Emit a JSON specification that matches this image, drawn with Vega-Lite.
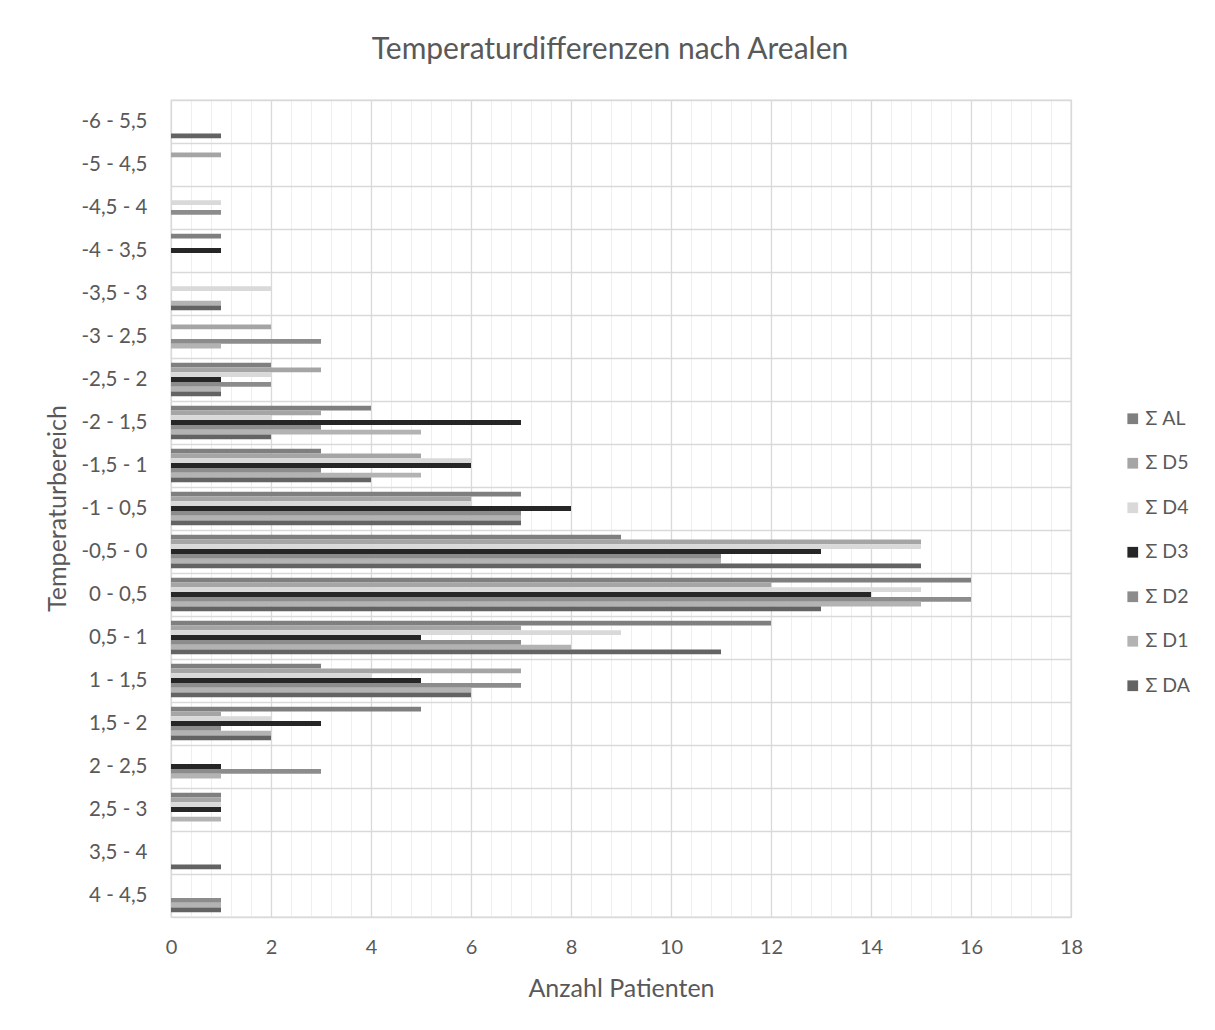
{
  "$schema": "https://vega.github.io/schema/vega-lite/v6.json",
  "width": 900,
  "height": 817,
  "autosize": {"type": "none"},
  "padding": {"left": 171, "top": 100, "right": 144, "bottom": 113},
  "background": "white",
  "title": {
    "text": "Temperaturdifferenzen nach Arealen",
    "font": "Lato",
    "fontSize": 30,
    "fontWeight": "normal",
    "color": "#595959",
    "anchor": "middle",
    "frame": "group",
    "dx": -11,
    "offset": 1,
    "baseline": "alphabetic"
  },
  "data": {
    "values": [
      {"t": "-6 - 5,5", "s": "Σ DA", "n": 1},
      {"t": "-5 - 4,5", "s": "Σ D5", "n": 1},
      {"t": "-4,5 - 4", "s": "Σ D4", "n": 1},
      {"t": "-4,5 - 4", "s": "Σ D2", "n": 1},
      {"t": "-4 - 3,5", "s": "Σ AL", "n": 1},
      {"t": "-4 - 3,5", "s": "Σ D3", "n": 1},
      {"t": "-3,5 - 3", "s": "Σ D4", "n": 2},
      {"t": "-3,5 - 3", "s": "Σ D1", "n": 1},
      {"t": "-3,5 - 3", "s": "Σ DA", "n": 1},
      {"t": "-3 - 2,5", "s": "Σ D5", "n": 2},
      {"t": "-3 - 2,5", "s": "Σ D2", "n": 3},
      {"t": "-3 - 2,5", "s": "Σ D1", "n": 1},
      {"t": "-2,5 - 2", "s": "Σ AL", "n": 2},
      {"t": "-2,5 - 2", "s": "Σ D5", "n": 3},
      {"t": "-2,5 - 2", "s": "Σ D4", "n": 2},
      {"t": "-2,5 - 2", "s": "Σ D3", "n": 1},
      {"t": "-2,5 - 2", "s": "Σ D2", "n": 2},
      {"t": "-2,5 - 2", "s": "Σ D1", "n": 1},
      {"t": "-2,5 - 2", "s": "Σ DA", "n": 1},
      {"t": "-2 - 1,5", "s": "Σ AL", "n": 4},
      {"t": "-2 - 1,5", "s": "Σ D5", "n": 3},
      {"t": "-2 - 1,5", "s": "Σ D4", "n": 2},
      {"t": "-2 - 1,5", "s": "Σ D3", "n": 7},
      {"t": "-2 - 1,5", "s": "Σ D2", "n": 3},
      {"t": "-2 - 1,5", "s": "Σ D1", "n": 5},
      {"t": "-2 - 1,5", "s": "Σ DA", "n": 2},
      {"t": "-1,5 - 1", "s": "Σ AL", "n": 3},
      {"t": "-1,5 - 1", "s": "Σ D5", "n": 5},
      {"t": "-1,5 - 1", "s": "Σ D4", "n": 6},
      {"t": "-1,5 - 1", "s": "Σ D3", "n": 6},
      {"t": "-1,5 - 1", "s": "Σ D2", "n": 3},
      {"t": "-1,5 - 1", "s": "Σ D1", "n": 5},
      {"t": "-1,5 - 1", "s": "Σ DA", "n": 4},
      {"t": "-1 - 0,5", "s": "Σ AL", "n": 7},
      {"t": "-1 - 0,5", "s": "Σ D5", "n": 6},
      {"t": "-1 - 0,5", "s": "Σ D4", "n": 6},
      {"t": "-1 - 0,5", "s": "Σ D3", "n": 8},
      {"t": "-1 - 0,5", "s": "Σ D2", "n": 7},
      {"t": "-1 - 0,5", "s": "Σ D1", "n": 7},
      {"t": "-1 - 0,5", "s": "Σ DA", "n": 7},
      {"t": "-0,5 - 0", "s": "Σ AL", "n": 9},
      {"t": "-0,5 - 0", "s": "Σ D5", "n": 15},
      {"t": "-0,5 - 0", "s": "Σ D4", "n": 15},
      {"t": "-0,5 - 0", "s": "Σ D3", "n": 13},
      {"t": "-0,5 - 0", "s": "Σ D2", "n": 11},
      {"t": "-0,5 - 0", "s": "Σ D1", "n": 11},
      {"t": "-0,5 - 0", "s": "Σ DA", "n": 15},
      {"t": "0 - 0,5", "s": "Σ AL", "n": 16},
      {"t": "0 - 0,5", "s": "Σ D5", "n": 12},
      {"t": "0 - 0,5", "s": "Σ D4", "n": 15},
      {"t": "0 - 0,5", "s": "Σ D3", "n": 14},
      {"t": "0 - 0,5", "s": "Σ D2", "n": 16},
      {"t": "0 - 0,5", "s": "Σ D1", "n": 15},
      {"t": "0 - 0,5", "s": "Σ DA", "n": 13},
      {"t": "0,5 - 1", "s": "Σ AL", "n": 12},
      {"t": "0,5 - 1", "s": "Σ D5", "n": 7},
      {"t": "0,5 - 1", "s": "Σ D4", "n": 9},
      {"t": "0,5 - 1", "s": "Σ D3", "n": 5},
      {"t": "0,5 - 1", "s": "Σ D2", "n": 7},
      {"t": "0,5 - 1", "s": "Σ D1", "n": 8},
      {"t": "0,5 - 1", "s": "Σ DA", "n": 11},
      {"t": "1 - 1,5", "s": "Σ AL", "n": 3},
      {"t": "1 - 1,5", "s": "Σ D5", "n": 7},
      {"t": "1 - 1,5", "s": "Σ D4", "n": 4},
      {"t": "1 - 1,5", "s": "Σ D3", "n": 5},
      {"t": "1 - 1,5", "s": "Σ D2", "n": 7},
      {"t": "1 - 1,5", "s": "Σ D1", "n": 6},
      {"t": "1 - 1,5", "s": "Σ DA", "n": 6},
      {"t": "1,5 - 2", "s": "Σ AL", "n": 5},
      {"t": "1,5 - 2", "s": "Σ D5", "n": 1},
      {"t": "1,5 - 2", "s": "Σ D4", "n": 2},
      {"t": "1,5 - 2", "s": "Σ D3", "n": 3},
      {"t": "1,5 - 2", "s": "Σ D2", "n": 1},
      {"t": "1,5 - 2", "s": "Σ D1", "n": 2},
      {"t": "1,5 - 2", "s": "Σ DA", "n": 2},
      {"t": "2 - 2,5", "s": "Σ D3", "n": 1},
      {"t": "2 - 2,5", "s": "Σ D2", "n": 3},
      {"t": "2 - 2,5", "s": "Σ D1", "n": 1},
      {"t": "2,5 - 3", "s": "Σ AL", "n": 1},
      {"t": "2,5 - 3", "s": "Σ D5", "n": 1},
      {"t": "2,5 - 3", "s": "Σ D4", "n": 1},
      {"t": "2,5 - 3", "s": "Σ D3", "n": 1},
      {"t": "2,5 - 3", "s": "Σ D1", "n": 1},
      {"t": "3,5 - 4", "s": "Σ DA", "n": 1},
      {"t": "4 - 4,5", "s": "Σ D2", "n": 1},
      {"t": "4 - 4,5", "s": "Σ D1", "n": 1},
      {"t": "4 - 4,5", "s": "Σ DA", "n": 1}
    ]
  },
  "layer": [
    {
      "mark": {"type": "bar", "opacity": 0},
      "encoding": {
        "x": {
          "field": "n",
          "type": "quantitative",
          "scale": {"domain": [0, 18], "nice": false, "zero": true},
          "axis": {
            "orient": "top",
            "values": [0.4, 0.8, 1.2, 1.6, 2.4, 2.8, 3.2, 3.6, 4.4, 4.8, 5.2, 5.6, 6.4, 6.8, 7.2, 7.6, 8.4, 8.8, 9.2, 9.6, 10.4, 10.8, 11.2, 11.6, 12.4, 12.8, 13.2, 13.6, 14.4, 14.8, 15.2, 15.6, 16.4, 16.8, 17.2, 17.6],
            "grid": true,
            "gridColor": "#efefef",
            "gridWidth": 1,
            "labels": false,
            "ticks": false,
            "domain": false,
            "title": null
          }
        }
      }
    },
    {
      "mark": {"type": "bar"},
      "encoding": {
        "x": {
          "field": "n",
          "type": "quantitative",
          "scale": {"domain": [0, 18], "nice": false, "zero": true},
          "axis": {
            "orient": "bottom",
            "values": [0, 2, 4, 6, 8, 10, 12, 14, 16, 18],
            "grid": true,
            "gridColor": "#d9d9d9",
            "gridWidth": 1.3,
            "domain": false,
            "ticks": false,
            "tickSize": 0,
            "labelFlush": false,
            "labelPadding": 20,
            "labelFont": "Lato",
            "labelFontSize": 20,
            "labelColor": "#595959",
            "title": "Anzahl Patienten",
            "titleFont": "Lato",
            "titleFontSize": 25,
            "titleFontWeight": "normal",
            "titleColor": "#595959",
            "titleX": 450,
            "titleY": 79,
            "titleBaseline": "alphabetic",
            "titleAlign": "center"
          }
        },
        "y": {
          "field": "t",
          "type": "nominal",
          "scale": {
            "domain": ["-6 - 5,5", "-5 - 4,5", "-4,5 - 4", "-4 - 3,5", "-3,5 - 3", "-3 - 2,5", "-2,5 - 2", "-2 - 1,5", "-1,5 - 1", "-1 - 0,5", "-0,5 - 0", "0 - 0,5", "0,5 - 1", "1 - 1,5", "1,5 - 2", "2 - 2,5", "2,5 - 3", "3,5 - 4", "4 - 4,5"],
            "paddingInner": 0,
            "paddingOuter": 0
          },
          "axis": {
            "tickBand": "extent",
            "grid": true,
            "gridColor": "#d9d9d9",
            "gridWidth": 1.3,
            "domain": false,
            "ticks": false,
            "tickSize": 0,
            "labelPadding": 24,
            "labelFont": "Lato",
            "labelFontSize": 20.5,
            "labelColor": "#595959",
            "title": "Temperaturbereich",
            "titleFont": "Lato",
            "titleFontSize": 25,
            "titleFontWeight": "normal",
            "titleColor": "#595959",
            "titleAngle": 270,
            "titleX": -114,
            "titleY": 408,
            "titleAlign": "center",
            "titleBaseline": "middle"
          }
        },
        "yOffset": {
          "field": "s",
          "type": "nominal",
          "scale": {
            "domain": ["Σ AL", "Σ D5", "Σ D4", "Σ D3", "Σ D2", "Σ D1", "Σ DA"],
            "paddingInner": 0,
            "paddingOuter": 1.15
          }
        },
        "color": {
          "field": "s",
          "type": "nominal",
          "scale": {
            "domain": ["Σ AL", "Σ D5", "Σ D4", "Σ D3", "Σ D2", "Σ D1", "Σ DA"],
            "range": ["#7f7f7f", "#a5a5a5", "#d9d9d9", "#262626", "#8c8c8c", "#b3b3b3", "#636363"]
          },
          "legend": {
            "title": null,
            "orient": "none",
            "legendX": 952,
            "legendY": 309,
            "padding": 0,
            "symbolType": "square",
            "symbolSize": 115,
            "symbolStrokeWidth": 0,
            "symbolOpacity": 1,
            "labelFont": "Lato",
            "labelFontSize": 19.5,
            "labelColor": "#595959",
            "labelOffset": 3,
            "rowPadding": 23.5
          }
        }
      }
    }
  ],
  "resolve": {"axis": {"x": "independent"}},
  "config": {
    "view": {"stroke": "#d9d9d9", "strokeWidth": 1.3},
    "font": "Lato"
  }
}
